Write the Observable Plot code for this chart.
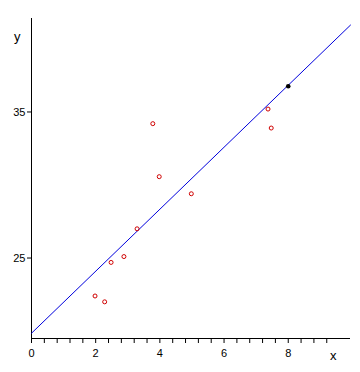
<!DOCTYPE html>
<html>
<head>
<meta charset="utf-8">
<script src="https://cdn.jsdelivr.net/npm/d3@7"></script>
<script src="https://cdn.jsdelivr.net/npm/@observablehq/plot@0.6"></script>
<style>
  html, body { margin: 0; padding: 0; background: #fff; }
  #chart svg { display: block; }
</style>
</head>
<body>
<div id="chart"></div>
<script>
// Observed data (red circles)
const obsX = [1.98, 2.28, 2.48, 2.88, 3.29, 3.78, 3.98, 4.98, 7.37, 7.47];
const obsY = [22.4, 22.0, 24.7, 25.1, 27.0, 34.2, 30.57, 29.4, 35.2, 33.9];
// Predicted point (black)
const predX = [8.0];
const predY = [36.76];
// Fitted line endpoints
const fitX = [0, 9.94];
const fitY = [19.85, 40.95];
// Axis ticks
const xTicks = [0, 0.4, 0.8, 1.2, 1.6, 2, 2.4, 2.8, 3.2, 3.6, 4, 4.4, 4.8, 5.2, 5.6, 6, 6.4, 6.8, 7.2, 7.6, 8, 8.4, 8.8, 9.2];
const xTickLabels = [0, 2, 4, 6, 8];
const yTicks = [25, 35];
const xDomain = [0, 9.94];
const yDomain = [19.49, 41.4];

const obs = obsX.map((x, i) => ({x, y: obsY[i]}));
const pred = predX.map((x, i) => ({x, y: predY[i]}));
const fit = fitX.map((x, i) => ({x, y: fitY[i]}));

const chart = Plot.plot({
  width: 360,
  height: 372,
  marginLeft: 31,
  marginRight: 10,
  marginTop: 18,
  marginBottom: 34,
  style: {fontFamily: "'Liberation Sans', Arial, sans-serif", fontSize: "11px", color: "black", background: "white"},
  x: {domain: xDomain},
  y: {domain: yDomain},
  marks: [
    Plot.ruleX([xDomain[0]], {stroke: "black"}),
    Plot.ruleY([yDomain[0]], {stroke: "black"}),
    Plot.axisX({
      ticks: xTicks, tickSize: 5, tickPadding: 6, label: null,
      tickFormat: d => xTickLabels.some(v => Math.abs(v - d) < 1e-9) ? String(Math.round(d)) : "",
      stroke: "black", strokeOpacity: 1
    }),
    Plot.axisY({ticks: yTicks, tickSize: 4, tickPadding: 2, label: null, stroke: "black", strokeOpacity: 1}),
    Plot.line(fit, {x: "x", y: "y", stroke: "#0000dd", strokeWidth: 1}),
    Plot.dot(obs, {x: "x", y: "y", r: 2, stroke: "#d00000", strokeWidth: 1, fill: "none"}),
    Plot.dot(pred, {x: "x", y: "y", r: 2.3, fill: "black", stroke: "none"}),
    Plot.text(["y"], {frameAnchor: "top-left", dx: -17.5, dy: 13.5, fontSize: 13, fill: "black"}),
    Plot.text(["x"], {frameAnchor: "bottom-right", dx: -14, dy: 21.5, fontSize: 13, fill: "black"})
  ]
});
document.getElementById("chart").appendChild(chart);
</script>
</body>
</html>
